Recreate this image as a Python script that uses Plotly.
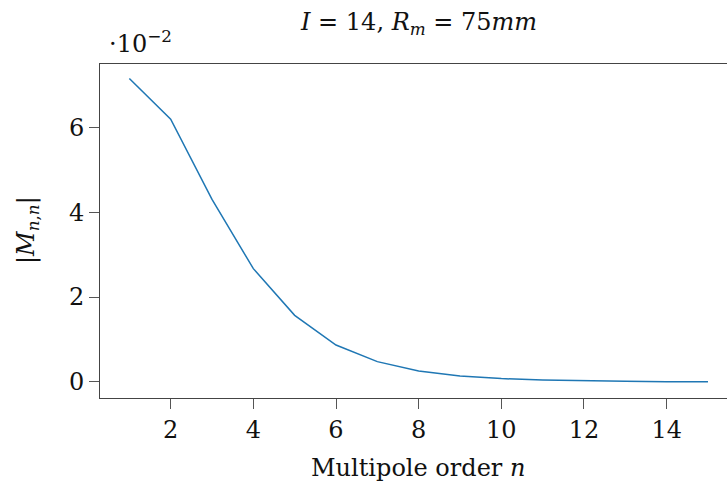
import plotly.graph_objects as go

# Data (|M_{n,n}| in units of 1e-2)
order_n = [1, 2, 3, 4, 5, 6, 7, 8, 9, 10, 11, 12, 13, 14, 15]
m_nn = [7.15, 6.19, 4.30, 2.67, 1.57, 0.87, 0.48, 0.26, 0.14, 0.08, 0.045, 0.025, 0.015, 0.008, 0.005]
x_ticks = [2, 4, 6, 8, 10, 12, 14]
y_ticks = [0, 2, 4, 6]

W, H = 727, 490
L, R, T, B = 100, 0, 64, 92
FONT = "DejaVu Serif"
FS = 24
TXT = "#111"

fig = go.Figure()
fig.add_trace(go.Scatter(x=order_n, y=m_nn, mode="lines",
                         line=dict(color="#1f77b4", width=1.5), showlegend=False))

pw = W - L - R
ph = H - T - B

def px_x(p):
    return (p - L) / pw

def px_y(p):
    return (H - B - p) / ph

axis_common = dict(showgrid=False, zeroline=False, showline=True, linecolor="#444",
                   linewidth=1, mirror=True, ticks="outside", ticklen=10, tickwidth=1,
                   tickcolor="#555", tickfont=dict(family=FONT, size=FS, color=TXT))

fig.update_layout(
    width=W, height=H,
    margin=dict(l=L, r=R, t=T, b=B),
    paper_bgcolor="white", plot_bgcolor="white",
    xaxis=dict(range=[0.29, 15.46], tickvals=x_ticks, **axis_common),
    yaxis=dict(range=[-0.377, 7.49], tickvals=y_ticks, **axis_common),
    annotations=[
        dict(text="<i>I</i> = 14, <i>R</i><sub><i>m</i></sub> = 75<i>mm</i>",
             xref="paper", yref="paper", x=px_x(418), y=px_y(24), xanchor="center", yanchor="middle",
             showarrow=False, font=dict(family=FONT, size=FS, color=TXT)),
        dict(text="·10<sup>−2</sup>",
             xref="paper", yref="paper", x=px_x(107), y=px_y(42), xanchor="left", yanchor="middle",
             showarrow=False, font=dict(family=FONT, size=FS, color=TXT)),
        dict(text="|<i>M</i><sub><i>n</i>,<i>n</i></sub>|",
             xref="paper", yref="paper", x=px_x(27), y=px_y(230), xanchor="center", yanchor="middle",
             textangle=-90, showarrow=False, font=dict(family=FONT, size=FS, color=TXT)),
        dict(text="Multipole order <i>n</i>",
             xref="paper", yref="paper", x=px_x(418), y=px_y(468), xanchor="center", yanchor="middle",
             showarrow=False, font=dict(family=FONT, size=FS, color=TXT)),
    ],
)

fig.write_html("out.html")
